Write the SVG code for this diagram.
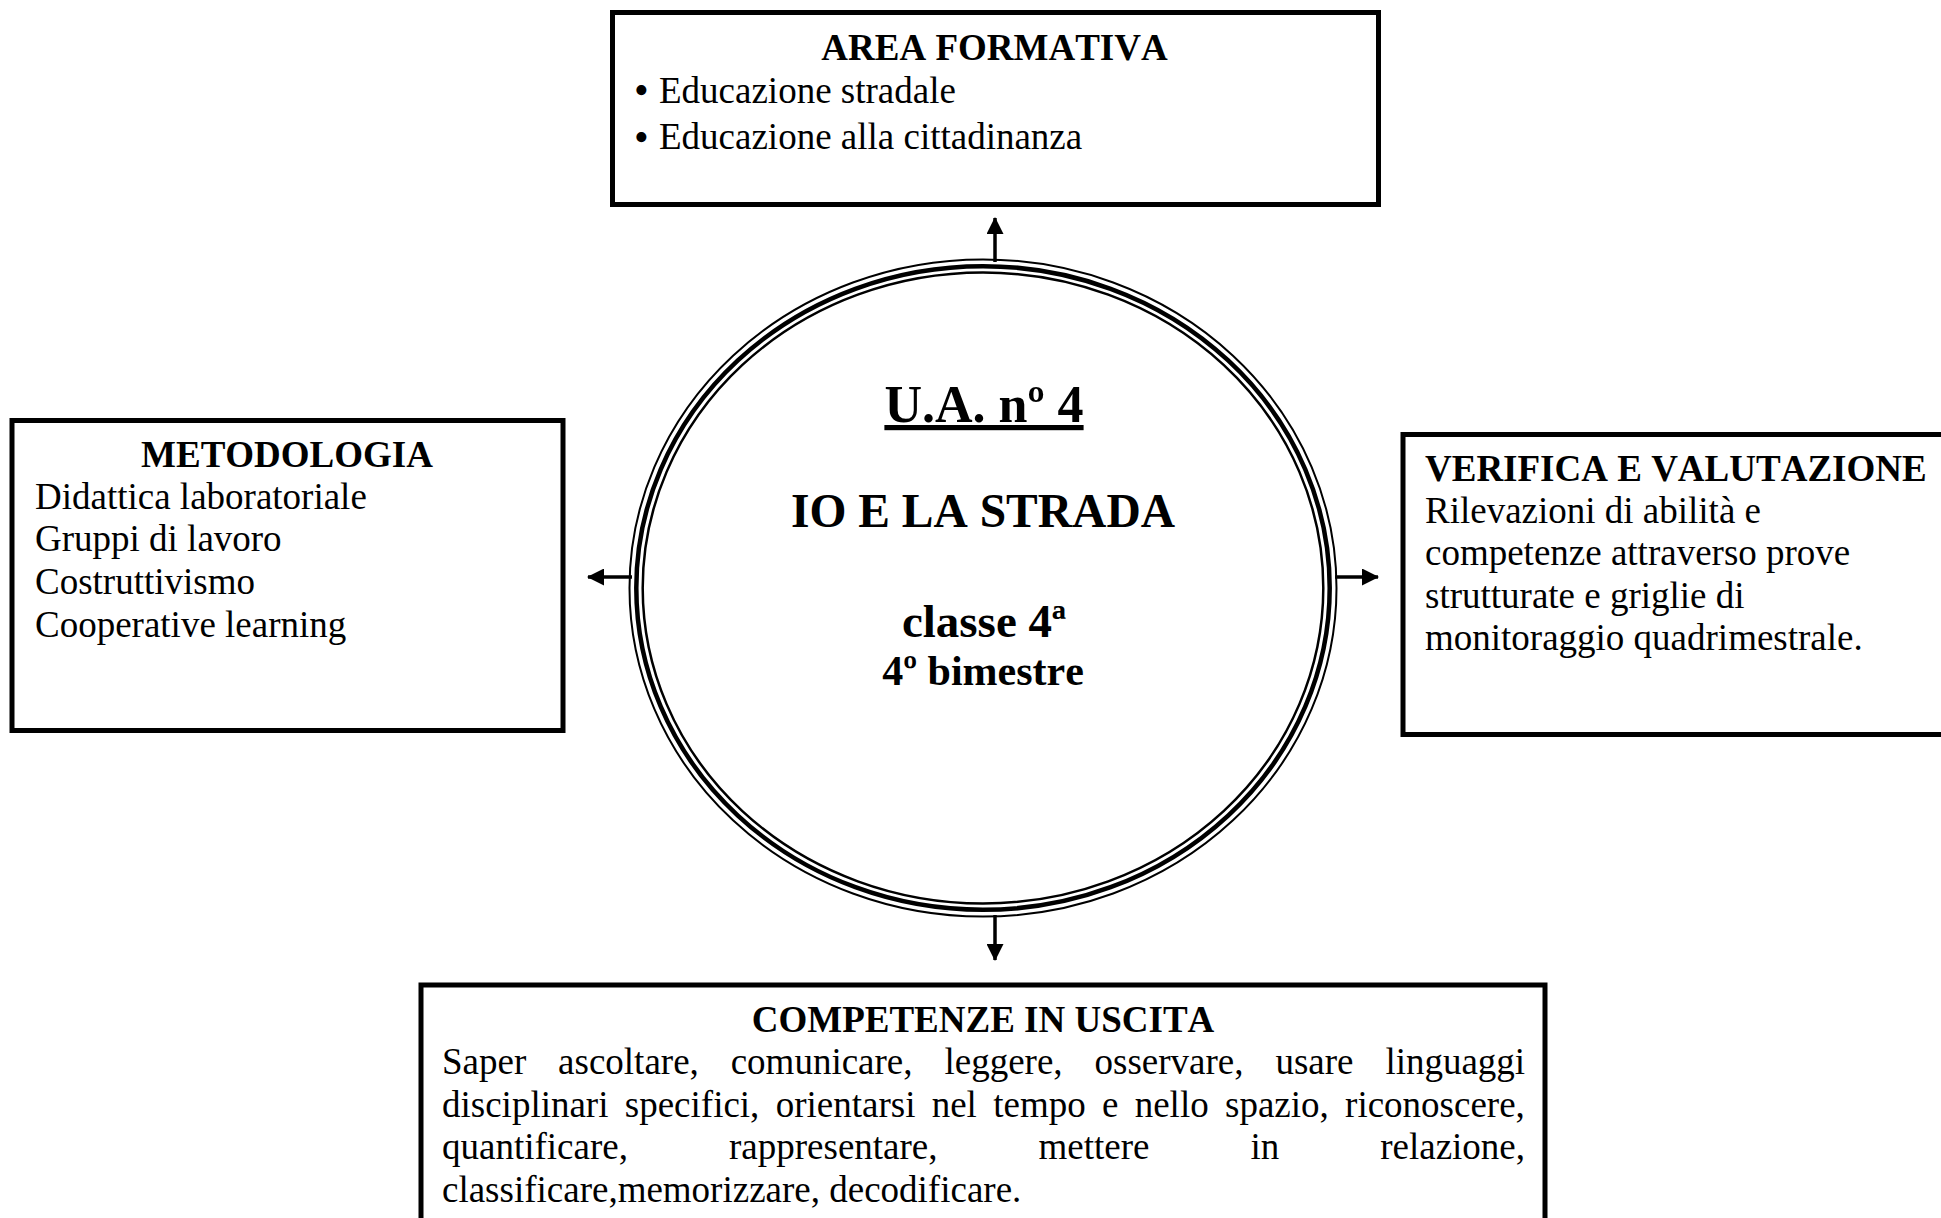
<svg xmlns="http://www.w3.org/2000/svg" width="1941" height="1218" viewBox="0 0 1941 1218">
<style>
.box{fill:#fff;stroke:#000;stroke-width:5}
.t{font-family:"Liberation Serif","Times New Roman",serif;fill:#000;font-kerning:none}
.h{font-weight:bold;font-size:37px}
.b{font-size:37px}
.bul{font-size:42px}
.c{font-weight:bold;text-anchor:middle}
.conn{stroke:#000;stroke-width:3.5;fill:none;marker-end:url(#ah)}
</style>
<defs>
<marker id="ah" markerUnits="userSpaceOnUse" markerWidth="17" markerHeight="17" viewBox="0 0 17 17" refX="16" refY="8.5" orient="auto">
<path d="M0,0 L17,8.5 L0,17 Z" fill="#000"/>
</marker>
</defs>
<rect width="1941" height="1218" fill="#fff"/>

<g id="connectors">
<line class="conn" x1="995" y1="262" x2="995" y2="218"/>
<line class="conn" x1="632" y1="577" x2="588" y2="577"/>
<line class="conn" x1="1335" y1="577" x2="1378" y2="577"/>
<line class="conn" x1="995" y1="915" x2="995" y2="960"/>
</g>

<g id="node-center">
<ellipse cx="983" cy="588" rx="353.5" ry="328.6" fill="none" stroke="#000" stroke-width="2"/>
<ellipse cx="983" cy="588" rx="346.7" ry="321.8" fill="none" stroke="#000" stroke-width="4.5"/>
<ellipse cx="983" cy="588" rx="340.3" ry="315.5" fill="none" stroke="#000" stroke-width="2.5"/>
<text class="t c" x="984" y="422" font-size="52" text-decoration="underline">U.A. nº 4</text>
<text class="t c" x="983" y="527" font-size="47.5">IO E LA STRADA</text>
<text class="t c" x="984" y="637" font-size="47">classe 4ª</text>
<text class="t c" x="983" y="685" font-size="42">4º bimestre</text>
</g>

<g id="node-area-formativa">
<rect class="box" x="612.5" y="12.5" width="766" height="192"/>
<text class="t h" x="994.5" y="60" text-anchor="middle">AREA FORMATIVA</text>
<text class="t bul" x="634" y="103.5">•</text>
<text class="t b" x="659" y="102.5">Educazione stradale</text>
<text class="t bul" x="634" y="150.5">•</text>
<text class="t b" x="659" y="148.5">Educazione alla cittadinanza</text>
</g>

<g id="node-metodologia">
<rect class="box" x="12" y="420.5" width="551" height="310"/>
<text class="t h" x="287" y="467" text-anchor="middle">METODOLOGIA</text>
<text class="t b" x="35" y="509">Didattica laboratoriale</text>
<text class="t b" x="35" y="551">Gruppi di lavoro</text>
<text class="t b" x="35" y="594">Costruttivismo</text>
<text class="t b" x="35" y="637">Cooperative learning</text>
</g>

<g id="node-verifica">
<rect class="box" x="1403" y="434.5" width="600" height="300"/>
<text class="t h" x="1425" y="481">VERIFICA E VALUTAZIONE</text>
<text class="t b" x="1425" y="523">Rilevazioni di abilità e</text>
<text class="t b" x="1425" y="565">competenze attraverso prove</text>
<text class="t b" x="1425" y="608">strutturate e griglie di</text>
<text class="t b" x="1425" y="650">monitoraggio quadrimestrale.</text>
</g>

<g id="node-competenze">
<rect class="box" x="421" y="985" width="1124" height="300"/>
<text class="t h" x="983" y="1032" text-anchor="middle">COMPETENZE IN USCITA</text>
<text class="t b" y="1074"><tspan x="442">Saper</tspan> <tspan x="558.1">ascoltare,</tspan> <tspan x="730.7">comunicare,</tspan> <tspan x="944.5">leggere,</tspan> <tspan x="1094.5">osservare,</tspan> <tspan x="1275.4">usare</tspan> <tspan x="1385.4">linguaggi</tspan></text>
<text class="t b" y="1117"><tspan x="442">disciplinari</tspan> <tspan x="624.8">specifici,</tspan> <tspan x="775.7">orientarsi</tspan> <tspan x="931.7">nel</tspan> <tspan x="993.2">tempo</tspan> <tspan x="1102">e</tspan> <tspan x="1134.7">nello</tspan> <tspan x="1225">spazio,</tspan> <tspan x="1345.1">riconoscere,</tspan></text>
<text class="t b" y="1159"><tspan x="442">quantificare,</tspan> <tspan x="729">rappresentare,</tspan> <tspan x="1038.5">mettere</tspan> <tspan x="1250.4">in</tspan> <tspan x="1380.2">relazione,</tspan></text>
<text class="t b" x="442" y="1202">classificare,memorizzare, decodificare.</text>
</g>
</svg>
